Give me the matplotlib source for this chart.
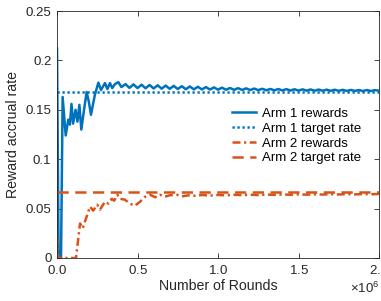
import numpy as np
import matplotlib
matplotlib.use("Agg")
import matplotlib.pyplot as plt
from matplotlib.ticker import ScalarFormatter

# ---------------- data (rounds in millions) ----------------
arm1_rounds_early = [0, 0.01, 0.025, 0.035, 0.054, 0.07, 0.08, 0.09, 0.1, 0.115,
                     0.127, 0.139, 0.151, 0.168, 0.184, 0.198, 0.211, 0.235, 0.257,
                     0.273, 0.298, 0.313, 0.329, 0.343, 0.36, 0.381, 0.4]
arm1_rate_early = [0.212, 0.0, 0.0, 0.163, 0.124, 0.140, 0.135, 0.156, 0.136, 0.150,
                   0.138, 0.155, 0.130, 0.150, 0.168, 0.158, 0.145, 0.165, 0.1775,
                   0.170, 0.177, 0.171, 0.177, 0.172, 0.176, 0.178, 0.173]
arm1_rounds_tail = list(np.round(np.arange(0.425, 2.0001, 0.025), 3))
arm1_rate_tail = [0.1760, 0.1722, 0.1757, 0.1720, 0.1754, 0.1718, 0.1751, 0.1716,
                  0.1748, 0.1714, 0.1745, 0.1712, 0.1742, 0.1710, 0.1739, 0.1708,
                  0.1736, 0.1707, 0.1733, 0.1706, 0.1730, 0.1705, 0.1727, 0.1704,
                  0.1724, 0.1703, 0.1721, 0.1702, 0.1719, 0.1701, 0.1717, 0.1700,
                  0.1715, 0.1699, 0.1713, 0.1698, 0.1711, 0.1697, 0.1710, 0.1696,
                  0.1709, 0.1695, 0.1708, 0.1694, 0.1707, 0.1694, 0.1706, 0.1693,
                  0.1705, 0.1693, 0.1704, 0.1692, 0.1703, 0.1692, 0.1702, 0.1691,
                  0.1701, 0.1691, 0.1700, 0.1690, 0.1700, 0.1690, 0.1699, 0.1694]

arm2_rounds = [0, 0.008, 0.118, 0.143, 0.160, 0.178, 0.205, 0.225, 0.250, 0.267,
               0.298, 0.32, 0.340, 0.355, 0.375, 0.39, 0.422, 0.453, 0.484, 0.516,
               0.547, 0.578, 0.61, 0.640, 0.67, 0.70, 0.743, 0.78, 0.82, 0.86,
               0.9, 0.95, 1.0, 1.05, 1.1, 1.15, 1.2, 1.25, 1.3, 1.35, 1.4, 1.45,
               1.5, 1.55, 1.6, 1.65, 1.7, 1.75, 1.8, 1.85, 1.9, 1.95, 2.0]
arm2_rate = [0.022, 0.0, 0.0, 0.035, 0.030, 0.039, 0.052, 0.048, 0.054, 0.049,
             0.057, 0.055, 0.060, 0.058, 0.064, 0.060, 0.059, 0.055, 0.053, 0.057,
             0.062, 0.064, 0.0615, 0.064, 0.062, 0.0635, 0.064, 0.0625, 0.0635, 0.063,
             0.0638, 0.0632, 0.0638, 0.0634, 0.0640, 0.0636, 0.0641, 0.0637, 0.0642,
             0.0639, 0.0643, 0.0640, 0.0644, 0.0641, 0.0645, 0.0642, 0.0646, 0.0643,
             0.0647, 0.0644, 0.0647, 0.0645, 0.0648]

arm1_target = 0.168
arm2_target = 0.067

labels = ["Arm 1 rewards", "Arm 1 target rate", "Arm 2 rewards", "Arm 2 target rate"]
xticks = [0, 0.5, 1, 1.5, 2]
yticks = [0, 0.05, 0.1, 0.15, 0.2, 0.25]
ytick_labels = ['0', '0.05', '0.1', '0.15', '0.2', '0.25']

# ---------------- plot ----------------
plt.rcParams['font.family'] = ['Liberation Sans', 'DejaVu Sans']
plt.rcParams['mathtext.fontset'] = 'custom'
plt.rcParams['mathtext.rm'] = 'Liberation Sans'

blue = '#0072BD'
orange = '#D95319'
axcol = '#262626'

fig = plt.figure(figsize=(3.81, 3.01), dpi=100)
ax = fig.add_axes([57/381, 43/301, 322/381, 247/301])

scale = 1e6
a1x = np.array(arm1_rounds_early + arm1_rounds_tail) * scale
a1y = np.array(arm1_rate_early + arm1_rate_tail)
a2x = np.array(arm2_rounds) * scale
a2y = np.array(arm2_rate)

lw = 1.8
ax.plot(a1x, a1y, color=blue, lw=lw, ls='-', label=labels[0])
ax.plot([0, 2 * scale], [arm1_target, arm1_target], color=blue, lw=lw,
        ls=(0, (0.9, 1.1)), label=labels[1])
ax.plot(a2x, a2y, color=orange, lw=lw, ls=(0, (3.2, 1.4, 0.9, 1.4)), label=labels[2])
ax.plot([0, 2 * scale], [arm2_target, arm2_target], color=orange, lw=lw,
        ls=(0, (4.5, 2.6)), label=labels[3])

ax.set_xlim(0, 2 * scale)
ax.set_ylim(0, 0.25)
ax.set_xticks([t * scale for t in xticks])
ax.set_yticks(yticks)
ax.set_yticklabels(ytick_labels)
fmt = ScalarFormatter(useMathText=True)
fmt.set_powerlimits((0, 0))
ax.xaxis.set_major_formatter(fmt)

ax.tick_params(axis='both', direction='in', top=True, right=True, length=3.5,
               width=0.6, colors=axcol, labelsize=9.5)
ax.tick_params(axis='x', pad=4)
ax.tick_params(axis='y', pad=4)
for s in ax.spines.values():
    s.set_color(axcol)
    s.set_linewidth(0.6)

ax.set_xlabel('Number of Rounds', fontsize=10.2, color=axcol, labelpad=1.5)
ax.set_ylabel('Reward accrual rate', fontsize=10.2, color=axcol, labelpad=4)
ax.xaxis.get_offset_text().set_fontsize(9.5)
ax.xaxis.get_offset_text().set_color(axcol)

leg = ax.legend(loc='center left', bbox_to_anchor=(0.545, 0.494), frameon=False,
                fontsize=9.5, handlelength=1.75, handletextpad=0.5,
                labelspacing=0.2, borderaxespad=0, borderpad=0)
for t in leg.get_texts():
    t.set_color('black')

fig.savefig('out.png', dpi=100)
